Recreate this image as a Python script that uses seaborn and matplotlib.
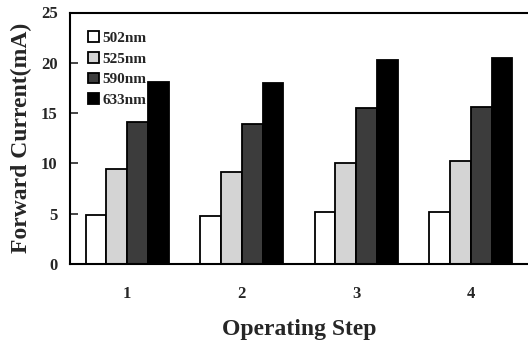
import matplotlib
matplotlib.use("Agg")
import matplotlib.pyplot as plt
import seaborn as sns
import pandas as pd

steps = ["1", "2", "3", "4"]
wavelengths = ["502nm", "525nm", "590nm", "633nm"]
current_502 = [4.87, 4.77, 5.14, 5.20]
current_525 = [9.41, 9.17, 10.00, 10.24]
current_590 = [14.14, 13.90, 15.48, 15.64]
current_633 = [18.12, 18.00, 20.28, 20.50]
yticks = [0, 5, 10, 15, 20, 25]
colors = ["#ffffff", "#d4d4d4", "#3c3c3c", "#000000"]

series = [current_502, current_525, current_590, current_633]
rows = []
for wl, vals in zip(wavelengths, series):
    for s, v in zip(steps, vals):
        rows.append({"step": s, "wl": wl, "current": v})
df = pd.DataFrame(rows)

sns.set_style("white")
plt.rcParams["font.family"] = ["Liberation Serif", "DejaVu Serif"]
plt.rcParams["font.weight"] = "bold"

fig = plt.figure(figsize=(5.28, 3.44), dpi=100)
ax = fig.add_axes([70/528, 1-264/344, 1-70/528, (264-12.5)/344])

sns.barplot(data=df, x="step", y="current", hue="wl", order=steps,
            hue_order=wavelengths, palette=colors, width=0.725, gap=0,
            edgecolor="black", linewidth=1.3, ax=ax, errorbar=None, saturation=1)

ax.set_xlim(-0.5, 3.5)
ax.set_ylim(0, 25)
ax.set_yticks(yticks)
ax.set_yticklabels([str(t) for t in yticks], fontsize=12, fontweight="bold")
ax.set_xticklabels(steps, fontsize=12, fontweight="bold")
ax.tick_params(axis="y", direction="in", length=6, width=1.2, left=True, pad=9)
ax.tick_params(axis="x", length=0, pad=16)

for side in ["left", "bottom", "top"]:
    ax.spines[side].set_visible(True)
    ax.spines[side].set_color("black")
    ax.spines[side].set_linewidth(1.5)
ax.spines["right"].set_visible(False)

ax.set_xlabel("Operating Step", fontsize=17, fontweight="bold", labelpad=12)
ax.set_ylabel("Forward Current(mA)", fontsize=17, fontweight="bold", labelpad=6)

leg = ax.legend(loc="upper left", bbox_to_anchor=(0.04, 0.925), frameon=False,
                handlelength=0.7, handleheight=0.7, handletextpad=0.2,
                labelspacing=0.45, borderaxespad=0.0, borderpad=0.0,
                prop={"size": 11, "weight": "bold", "family": "Liberation Serif"})

fig.savefig("out.png", dpi=100)
